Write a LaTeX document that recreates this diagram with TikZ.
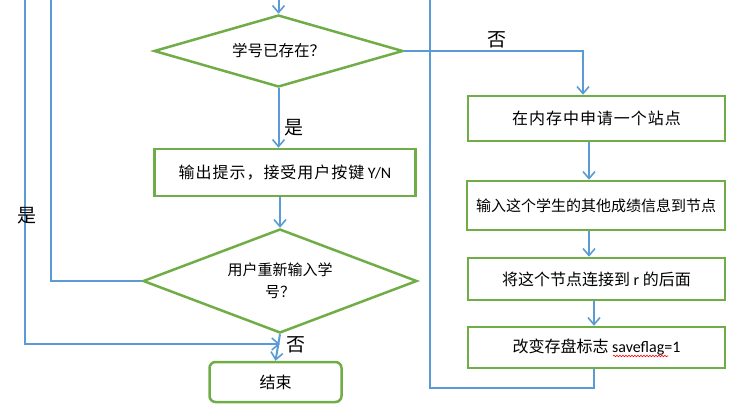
\documentclass[tikz,border=0pt]{standalone}
\usepackage{fontspec}
\setmainfont{Carlito}
\newfontfamily\cjk{Noto Sans CJK SC}
\newfontfamily\cjkw{Noto Sans CJK SC}[LetterSpace=6]
\usetikzlibrary{shapes.geometric,arrows.meta,decorations.pathmorphing}
\definecolor{lblue}{RGB}{91,155,213}
\definecolor{lgreen}{RGB}{112,173,71}
\tikzset{
  conn/.style={draw=lblue,line width=2pt},
  arr/.style={conn,-{Straight Barb[length=7pt,width=12pt,line width=1.6pt]}},
  box/.style={draw=lgreen,line width=2.5pt,rectangle,inner sep=0pt,font=\fontsize{16}{19}\selectfont},
  dia/.style={draw=lgreen,line width=2.5pt,diamond,shape aspect=3.4,inner sep=0pt,align=center,font=\fontsize{15.5}{22}\selectfont},
  lbl/.style={font=\cjk\fontsize{19}{22}\selectfont,inner sep=0pt}
}
\begin{document}
\begin{tikzpicture}[x=1pt,y=-1pt]
\useasboundingbox (0,0) rectangle (739,420);
% nodes
\node[dia,minimum width=249pt,minimum height=72pt] (d1) at (278.5,51) {\cjk 学号已存在？};
\node[box,minimum width=261pt,minimum height=47pt] (yn) at (285,172.5) {{\cjkw 输出提示，接受用户按键} Y/N};
\node[dia,minimum width=274pt,minimum height=104pt,font=\fontsize{15}{22}\selectfont] (d2) at (280,281) {\cjk 用户重新输入学\\\cjk 号？};
\node[box,rounded corners=6pt,minimum width=132pt,minimum height=40pt] (end) at (275.5,382) {\cjk 结束};
\node[box,minimum width=257pt,minimum height=45pt] (b1) at (596.5,118.5) {\cjkw 在内存中申请一个站点};
\node[box,minimum width=258pt,minimum height=49pt,font=\fontsize{15}{19}\selectfont] (b2) at (596,205.5) {\cjk 输入这个学生的其他成绩信息到节点};
\node[box,minimum width=257pt,minimum height=42pt] (b3) at (596.5,279) {{\cjk 将这个节点连接到} r {\cjk 的后面}};
\node[box,minimum width=257pt,minimum height=41pt] (b4) at (596.5,347.5) {{\cjk 改变存盘标志} saveflag=1};
% coordinates
\coordinate (in) at (278.5,0);
\coordinate (t1) at (51,0);
\coordinate (t2) at (25,0);
\coordinate (t3) at (430,0);
\coordinate (j1) at (280,344);
\coordinate (c1) at (583,51);
% connectors
\draw[arr] (in) -- (d1.north);
\draw[arr] (d1.south) -- (d1.south |- yn.north);
\draw[arr] (d2.north |- yn.south) -- (d2.north);
\draw[conn] (d2.west) -| (t1);
\draw[arr] (t2) |- (j1);
\draw[arr] (d2.south) -- (end.north);
\draw[arr] (d1.east) -- (c1) -- (c1 |- b1.north);
\draw[arr] (589,0 |- b1.south) -- (589,0 |- b2.north);
\draw[arr] (589,0 |- b2.south) -- (589,0 |- b3.north);
\draw[arr] (594,0 |- b3.south) -- (594,0 |- b4.north);
\draw[conn] (594,0 |- b4.south) -- (594,388) -| (t3);
% labels
\node[lbl] at (294,128) {是};
\node[lbl] at (27,216) {是};
\node[lbl] at (296,345) {否};
\node[lbl] at (497,40) {否};
% spell-check squiggle
\draw[red,line width=0.6pt,decorate,decoration={snake,segment length=3pt,amplitude=0.8pt}] (613,356) -- (668,356);
\end{tikzpicture}
\end{document}
